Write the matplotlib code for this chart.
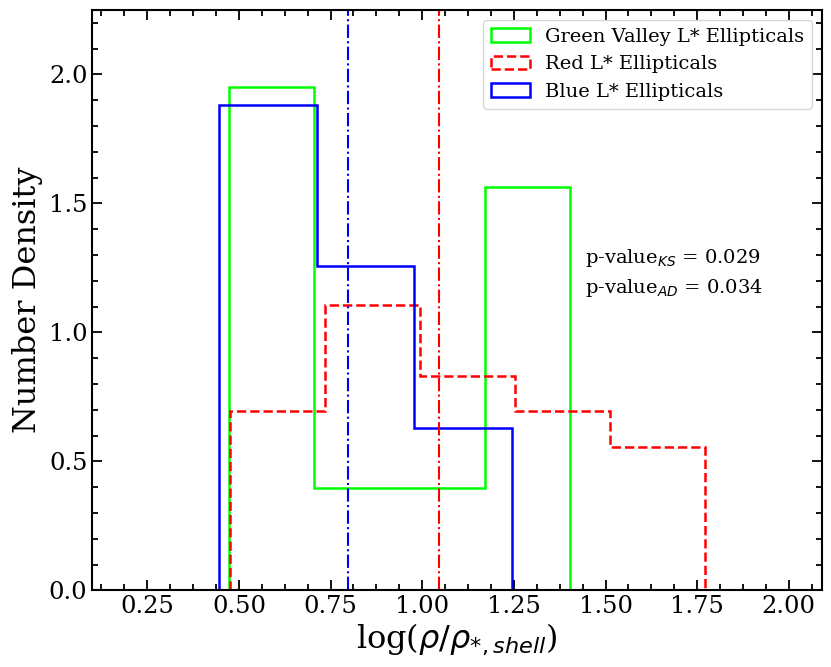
import numpy as np
import matplotlib
matplotlib.use('Agg')
import matplotlib.pyplot as plt
from matplotlib.patches import Patch
from matplotlib.ticker import MultipleLocator, AutoMinorLocator

plt.rcParams['font.family'] = 'DejaVu Serif'

# bin edges and densities
green_edges = [0.472, 0.705, 0.938, 1.170, 1.402]
green_vals = [1.953, 0.395, 0.395, 1.562]

red_edges = [0.477, 0.736, 0.995, 1.253, 1.512, 1.771]
red_vals = [0.694, 1.108, 0.829, 0.694, 0.554]

blue_edges = [0.447, 0.712, 0.978, 1.244]
blue_vals = [1.880, 1.256, 0.628]

# medians
blue_median = 0.797
red_median = 1.045

p_ks = 0.029
p_ad = 0.034

labels = ['Green Valley L* Ellipticals', 'Red L* Ellipticals', 'Blue L* Ellipticals']

fig = plt.figure(figsize=(8.31, 6.67), dpi=100)
ax = fig.add_axes([0.111, 0.115, 0.878, 0.870])

ax.stairs(green_vals, green_edges, color='lime', lw=1.8)
ax.stairs(red_vals, red_edges, color='red', lw=1.8, ls='--')
ax.stairs(blue_vals, blue_edges, color='blue', lw=1.8)

ax.axvline(blue_median, color='blue', ls='-.', lw=1.5)
ax.axvline(red_median, color='red', ls='-.', lw=1.5)

ax.text(0.675, 0.564, r'p-value$_{KS}$ = %.3f' % p_ks, transform=ax.transAxes,
        fontsize=14, va='baseline')
ax.text(0.675, 0.512, r'p-value$_{AD}$ = %.3f' % p_ad, transform=ax.transAxes,
        fontsize=14, va='baseline')

ax.set_xlim(0.1, 2.09)
ax.set_ylim(0, 2.25)
ax.xaxis.set_major_locator(MultipleLocator(0.25))
ax.xaxis.set_minor_locator(AutoMinorLocator(4))
ax.yaxis.set_major_locator(MultipleLocator(0.5))
ax.yaxis.set_minor_locator(AutoMinorLocator(5))
ax.tick_params(which='both', direction='in', top=True, right=True, labelsize=17.5, width=1.3)
ax.tick_params(which='major', length=7)
ax.tick_params(which='minor', length=4)
for s in ax.spines.values():
    s.set_linewidth(1.5)

ax.set_xlabel(r'log($\rho/\rho_{*,shell}$)', fontsize=23, labelpad=2)
ax.set_ylabel('Number Density', fontsize=23)

handles = [
    Patch(facecolor='none', edgecolor='lime', lw=1.8),
    Patch(facecolor='none', edgecolor='red', lw=1.8, ls='--'),
    Patch(facecolor='none', edgecolor='blue', lw=1.8),
]
ax.legend(handles, labels, loc='upper right', fontsize=14)

fig.savefig('out.png', dpi=100)
